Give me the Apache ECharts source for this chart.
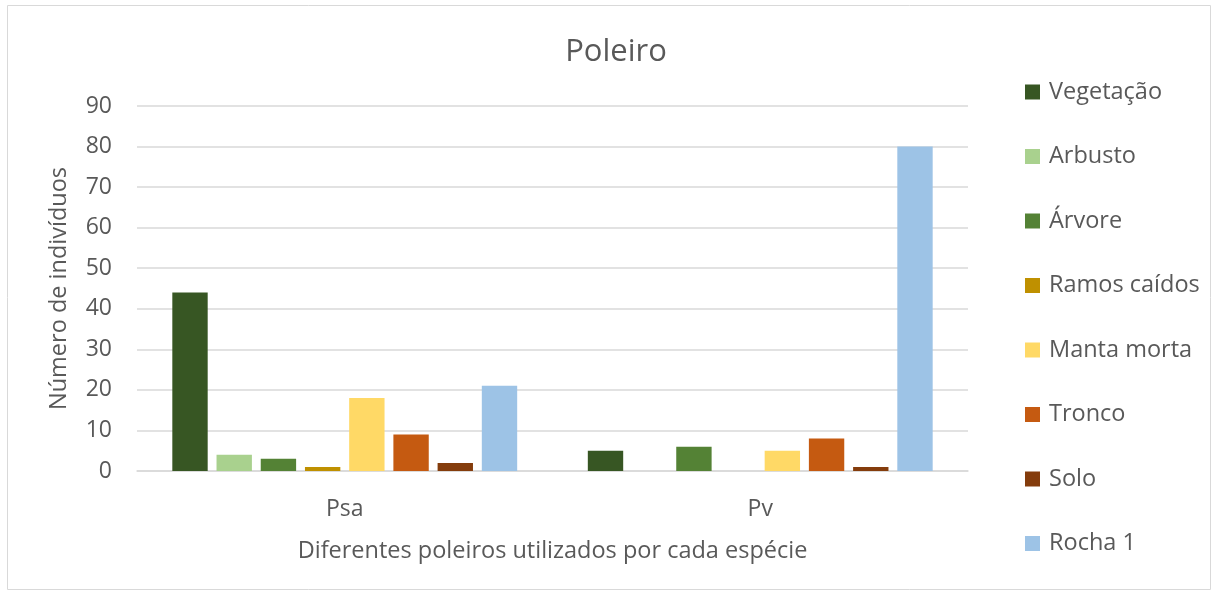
<!DOCTYPE html>
<html><head><meta charset="utf-8">
<script src="https://cdn.jsdelivr.net/npm/echarts@6/dist/echarts.min.js"></script>
<style>html,body{margin:0;padding:0;background:#fff}#c{width:1213px;height:592px}</style>
</head><body><div id="c"></div>
<script>
const categories = ['Psa', 'Pv'];
const seriesNames = ['Vegetação', 'Arbusto', 'Árvore', 'Ramos caídos', 'Manta morta', 'Tronco', 'Solo', 'Rocha 1'];
const vegetacao = [44, 5];
const arbusto = [4, 0];
const arvore = [3, 6];
const ramosCaidos = [1, 0];
const mantaMorta = [18, 5];
const tronco = [9, 8];
const solo = [2, 1];
const rocha1 = [21, 80];
const colors = ['#375623', '#A9D18E', '#548235', '#BF9000', '#FFD966', '#C55A11', '#843C0C', '#9DC3E6'];
const yTicks = [0, 10, 20, 30, 40, 50, 60, 70, 80, 90];

const values = [vegetacao, arbusto, arvore, ramosCaidos, mantaMorta, tronco, solo, rocha1];
const font = 'Open Sans, sans-serif';
const chart = echarts.init(document.getElementById('c'));
chart.setOption({
  animation: false,
  color: colors,
  title: {
    text: 'Poleiro', left: 611, top: 32, textAlign: 'center',
    textStyle: { fontFamily: font, fontSize: 31, fontWeight: 'normal', color: '#595959' }
  },
  graphic: [{
    type: 'rect', shape: { x: 7.5, y: 5.5, width: 1203, height: 584 },
    style: { fill: 'none', stroke: '#d9d9d9', lineWidth: 1 }, silent: true, z: -1
  }],
  legend: {
    orient: 'vertical', left: 1020, top: 72,
    itemWidth: 15, itemHeight: 15, itemGap: 34.5,
    icon: 'rect',
    data: seriesNames,
    textStyle: { fontFamily: font, fontSize: 23.5, color: '#595959', padding: [0, 0, 0, 4], lineHeight: 30 }
  },
  grid: { left: 137, right: 245, top: 106, bottom: 121, containLabel: false },
  xAxis: {
    type: 'category', data: categories,
    axisLine: { show: true, lineStyle: { color: '#d9d9d9', width: 1.5 } },
    axisTick: { show: false },
    axisLabel: { fontFamily: font, fontSize: 23, color: '#595959', margin: 27 },
    name: 'Diferentes poleiros utilizados por cada espécie', nameLocation: 'middle', nameGap: 68,
    nameTextStyle: { fontFamily: font, fontSize: 23.5, color: '#595959' }
  },
  yAxis: {
    type: 'value', min: yTicks[0], max: yTicks[yTicks.length - 1], interval: 10,
    axisLine: { show: false }, axisTick: { show: false },
    splitLine: { lineStyle: { color: '#d9d9d9', width: 1.5 } },
    axisLabel: { fontFamily: font, fontSize: 23, color: '#595959', margin: 25 },
    name: 'Número de indivíduos', nameLocation: 'middle', nameGap: 66, nameRotate: 90,
    nameTextStyle: { fontFamily: font, fontSize: 23.5, color: '#595959' }
  },
  series: seriesNames.map((n, i) => ({
    name: n, type: 'bar', data: values[i],
    barGap: '25%', barCategoryGap: '17%'
  }))
});
</script></body></html>
